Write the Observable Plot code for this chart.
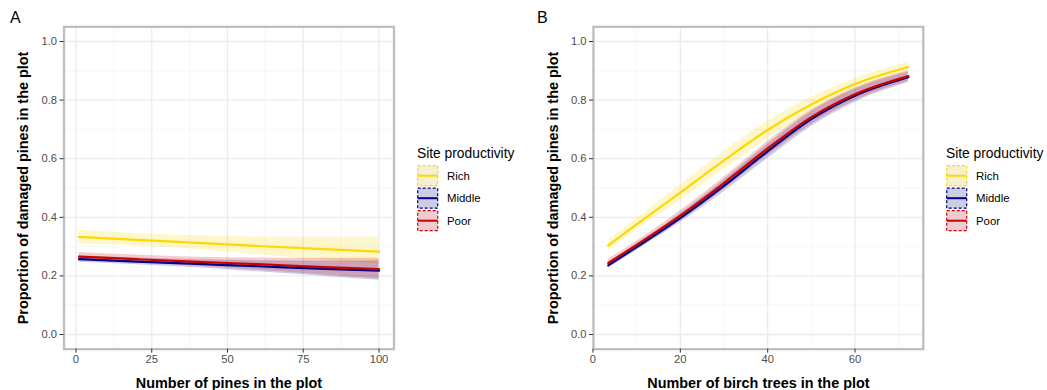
<!DOCTYPE html>
<html>
<head>
<meta charset="utf-8">
<script src="https://cdn.jsdelivr.net/npm/d3@7"></script>
<script src="https://cdn.jsdelivr.net/npm/@observablehq/plot@0.6"></script>
<style>
  html, body { margin: 0; padding: 0; background: #fff; }
  #wrap { position: relative; width: 1047px; height: 390px; overflow: hidden; font-family: "Liberation Sans", Arial, sans-serif; }
  .panel { position: absolute; top: 0; }
  .panel svg { font-family: "Liberation Sans", Arial, sans-serif; }
  g[aria-label="x-axis tick label"] text, g[aria-label="y-axis tick label"] text { font-size: 11.2px; fill: #4d4d4d; }
  g[aria-label="x-axis label"] text, g[aria-label="y-axis label"] text { font-size: 14.4px; font-weight: bold; fill: #000; }
  g[aria-label="x-axis tick"] path, g[aria-label="y-axis tick"] path { stroke: #333; stroke-opacity: 1; }
  .tag { position: absolute; font-size: 16px; color: #000; top: 9px; }
  .legend { position: absolute; top: 140px; }
</style>
</head>
<body>
<div id="wrap"></div>
<script>
// ---- data ----
const sites = ["Rich", "Middle", "Poor"];
const siteColors = ["#FFD700", "#00008B", "#CD0000"];
const keyFills = ["#F5F0D2", "#CDCDE4", "#EECDD2"];

// Panel A: number of pines
const pinesX = [1, 20, 40, 60, 80, 100];
const richA = [0.333, 0.323, 0.313, 0.302, 0.292, 0.283];
const richALo = [0.310, 0.302, 0.290, 0.272, 0.255, 0.240];
const richAHi = [0.357, 0.345, 0.337, 0.333, 0.332, 0.332];
const middleA = [0.257, 0.249, 0.241, 0.233, 0.225, 0.218];
const middleALo = [0.247, 0.238, 0.228, 0.214, 0.200, 0.185];
const middleAHi = [0.268, 0.261, 0.255, 0.252, 0.251, 0.252];
const poorA = [0.266, 0.257, 0.248, 0.240, 0.231, 0.223];
const poorALo = [0.253, 0.244, 0.233, 0.220, 0.205, 0.190];
const poorAHi = [0.280, 0.271, 0.264, 0.261, 0.260, 0.260];

// Panel B: number of birch trees
const birchX = [3.5, 10, 20, 30, 40, 50, 60, 72.2];
const richB = [0.304, 0.376, 0.484, 0.594, 0.698, 0.785, 0.855, 0.913];
const richBLo = [0.287, 0.357, 0.457, 0.563, 0.668, 0.760, 0.835, 0.897];
const richBHi = [0.321, 0.395, 0.511, 0.625, 0.728, 0.810, 0.873, 0.928];
const middleB = [0.236, 0.298, 0.397, 0.507, 0.625, 0.735, 0.815, 0.878];
const middleBLo = [0.226, 0.287, 0.382, 0.487, 0.601, 0.710, 0.793, 0.860];
const middleBHi = [0.246, 0.309, 0.412, 0.527, 0.649, 0.760, 0.837, 0.896];
const poorB = [0.244, 0.306, 0.406, 0.517, 0.635, 0.742, 0.820, 0.882];
const poorBLo = [0.232, 0.294, 0.390, 0.497, 0.611, 0.718, 0.799, 0.864];
const poorBHi = [0.256, 0.318, 0.422, 0.537, 0.659, 0.766, 0.841, 0.900];

// ticks
const yTicks = [0, 0.2, 0.4, 0.6, 0.8, 1.0];
const yMinor = [0.1, 0.3, 0.5, 0.7, 0.9];
const xTicksA = [0, 25, 50, 75, 100];
const xMinorA = [12.5, 37.5, 62.5, 87.5];
const xTicksB = [0, 20, 40, 60];
const xMinorB = [10, 30, 50, 70];

const titleY = "Proportion of damaged pines in the plot";
const titleXA = "Number of pines in the plot";
const titleXB = "Number of birch trees in the plot";
const legendTitle = "Site productivity";

function rows(xs, series) {
  const out = [];
  series.forEach(([site, y, lo, hi]) => {
    xs.forEach((x, i) => out.push({x, y: y[i], lo: lo[i], hi: hi[i], site}));
  });
  return out;
}
const rowsA = rows(pinesX, [["Rich", richA, richALo, richAHi], ["Middle", middleA, middleALo, middleAHi], ["Poor", poorA, poorALo, poorAHi]]);
const rowsB = rows(birchX, [["Rich", richB, richBLo, richBHi], ["Middle", middleB, middleBLo, middleBHi], ["Poor", poorB, poorBLo, poorBHi]]);

function panel(data, xDomain, xTicks, xMinor, xLabel, marginLeft, marginRight) {
  return Plot.plot({
    width: 400, height: 390,
    marginLeft, marginRight, marginTop: 26.35, marginBottom: 41.35,
    style: {background: "transparent", fontFamily: "Liberation Sans, Arial, sans-serif"},
    x: {domain: xDomain},
    y: {domain: [-0.05, 1.05]},
    color: {domain: sites, range: siteColors},
    marks: [
      Plot.gridX(xMinor, {stroke: "#f2f2f2", strokeOpacity: 1, strokeWidth: 0.7}),
      Plot.gridY(yMinor, {stroke: "#f2f2f2", strokeOpacity: 1, strokeWidth: 0.7}),
      Plot.gridX(xTicks, {stroke: "#ebebeb", strokeOpacity: 1, strokeWidth: 1.3}),
      Plot.gridY(yTicks, {stroke: "#ebebeb", strokeOpacity: 1, strokeWidth: 1.3}),
      Plot.areaY(data, {x: "x", y1: "lo", y2: "hi", fill: "site", fillOpacity: 0.2, curve: "monotone-x"}),
      Plot.lineY(data, {x: "x", y: "y", stroke: "site", strokeWidth: 2.2, curve: "monotone-x"}),
      Plot.frame({stroke: "#bebebe", strokeWidth: 2.3}),
      Plot.axisX(xTicks, {tickSize: 4, tickPadding: 2, label: xLabel, labelAnchor: "center", labelArrow: "none", labelOffset: 39}),
      Plot.axisY(yTicks, {tickSize: 4, tickPadding: 3, tickFormat: d3.format(".1f"), label: titleY, labelAnchor: "center", labelArrow: "none", labelOffset: 46})
    ]
  });
}

const wrap = d3.select("#wrap");

const pA = wrap.append("div").attr("class", "panel").style("left", "0px");
pA.node().appendChild(panel(rowsA, [-3.95, 104.95], xTicksA, xMinorA, titleXA, 63.5, 6.5));
const pB = wrap.append("div").attr("class", "panel").style("left", "529px");
pB.node().appendChild(panel(rowsB, [0.12, 75.63], xTicksB, xMinorB, titleXB, 64, 6.2));

wrap.append("div").attr("class", "tag").style("left", "10px").text("A");
wrap.append("div").attr("class", "tag").style("left", "537px").text("B");

function legend(left) {
  const svg = wrap.append("svg").attr("class", "legend")
    .style("left", left + "px").attr("width", 110).attr("height", 100);
  svg.append("text").attr("x", 0).attr("y", 17.5)
    .style("font-size", "13.8px").style("fill", "#000").text(legendTitle);
  sites.forEach((s, i) => {
    const y0 = 25 + i * 22.5;
    svg.append("rect").attr("x", 0.7).attr("y", y0 + 0.7).attr("width", 20).attr("height", 20)
      .attr("fill", keyFills[i]).attr("stroke", siteColors[i]).attr("stroke-width", 1.2)
      .attr("stroke-dasharray", "3,2");
    svg.append("line").attr("x1", 0.7).attr("x2", 20.7).attr("y1", y0 + 10.7).attr("y2", y0 + 10.7)
      .attr("stroke", siteColors[i]).attr("stroke-width", 2);
    svg.append("text").attr("x", 30).attr("y", y0 + 10.7).attr("dy", "0.35em")
      .style("font-size", "11.4px").style("fill", "#000").text(s);
  });
}
legend(417);
legend(946);
</script>
</body>
</html>
